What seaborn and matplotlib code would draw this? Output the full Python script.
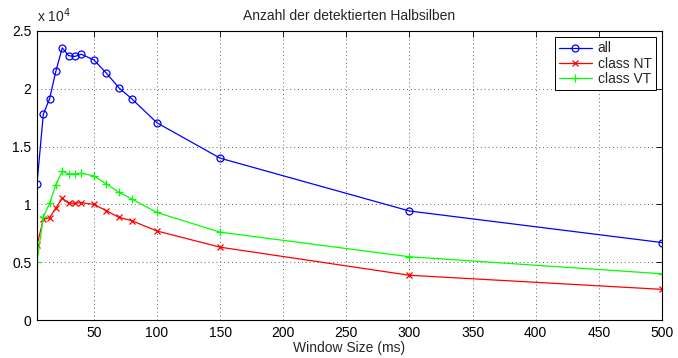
import matplotlib
matplotlib.use("Agg")
import matplotlib.pyplot as plt
import seaborn as sns
import pandas as pd
from matplotlib.ticker import FuncFormatter, MultipleLocator

window_ms = [5, 10, 15, 20, 25, 30, 35, 40, 50, 60, 70, 80, 100, 150, 300, 500]
all_counts = [11780, 17800, 19150, 21550, 23540, 22870, 22800, 22990, 22500, 21350,
              20070, 19140, 17060, 14000, 9430, 6700]
nt_counts = [6480, 8700, 8850, 9700, 10530, 10100, 10100, 10150, 10000, 9450,
             8880, 8590, 7700, 6300, 3870, 2650]
vt_counts = [5030, 8900, 10100, 11700, 12900, 12640, 12640, 12700, 12460, 11770,
             11050, 10470, 9300, 7600, 5470, 4000]

title = "Anzahl der detektierten Halbsilben"
xlabel = "Window Size (ms)"
series_names = ["all", "class NT", "class VT"]

sns.set_style("white")
plt.rcParams["font.family"] = ["Liberation Sans", "DejaVu Sans"]
FS = 10
plt.rcParams["font.size"] = FS

fig = plt.figure(figsize=(6.78, 3.58), dpi=100)
ax = fig.add_axes([37 / 678, 1 - 320 / 358, (662 - 37) / 678, (320 - 31) / 358])

specs = [
    (all_counts, "#0000ff", "o", dict(markerfacecolor="none", markersize=5)),
    (nt_counts, "#ff0000", "x", dict(markersize=4.5)),
    (vt_counts, "#00ff00", "+", dict(markersize=6)),
]
for (vals, col, mk, kw), name in zip(specs, series_names):
    df = pd.DataFrame({"x": window_ms, "y": vals})
    sns.lineplot(data=df, x="x", y="y", color=col, marker=mk, linewidth=0.9,
                 markeredgecolor=col, markeredgewidth=0.9,
                 label=name, ax=ax, **kw)

ax.set_xlim(5, 500)
ax.set_ylim(0, 25000)
ax.yaxis.set_major_locator(MultipleLocator(5000))
ax.yaxis.set_major_formatter(FuncFormatter(lambda v, p: f"{v/1e4:g}"))
ax.set_xticks([50, 100, 150, 200, 250, 300, 350, 400, 450, 500])

ax.grid(True, linestyle=(0, (1, 3)), color="#666666", linewidth=0.7)
for s in ax.spines.values():
    s.set_visible(True)
    s.set_color("black")
    s.set_linewidth(0.8)
ax.tick_params(direction="in", top=True, right=True, length=4, width=0.6,
               labelsize=FS, colors="black", pad=4)

ax.set_title(title, fontsize=FS, pad=8)
ax.set_xlabel(xlabel, fontsize=FS, labelpad=1)
ax.set_ylabel("")
ax.text(0.0, 1.02, "x 10$^{4}$", transform=ax.transAxes, ha="left", va="bottom", fontsize=FS)

leg = ax.legend(loc="upper right", frameon=True, fancybox=False, framealpha=1,
                edgecolor="black", fontsize=FS, handlelength=2.4,
                borderpad=0.3, labelspacing=0.1, handletextpad=0.4,
                borderaxespad=0.45)
leg.get_frame().set_linewidth(0.7)

fig.savefig("out.png", dpi=100)
